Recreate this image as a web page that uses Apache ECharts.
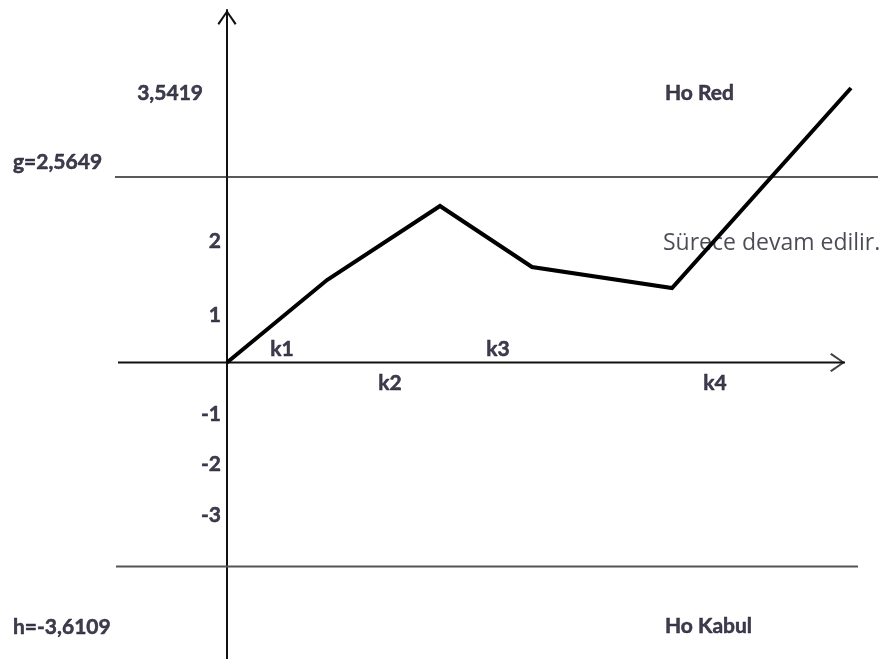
<!DOCTYPE html>
<html><head><meta charset="utf-8">
<script src="https://cdn.jsdelivr.net/npm/echarts@6/dist/echarts.min.js"></script>
<style>html,body{margin:0;padding:0;background:#fff}#c{width:881px;height:659px}</style>
</head><body><div id="c"></div>
<script>
// Schematic (not-to-scale) diagram units
const stepX = [0, 10.0, 21.3, 30.5, 44.5, 62.4];
const statY = [0, 1.65, 3.13, 1.91, 1.49, 5.49];
const tickLabels = ['2', '1', '-1', '-2', '-3'];
const tickPos = [2.42, 0.94, -1.03, -2.03, -3.05];
const gLevel = 3.71;
const hLevel = -4.08;
const gSpan = [-11.2, 65.1];
const hSpan = [-11.1, 63.1];
const xAxisSpan = [-10.9, 61.8];
const xRange = [-22.7, 65.4];
const yRange = [-5.93, 7.05];
const boldText = ['3,5419', 'g=2,5649', 'h=-3,6109', 'Ho Red', 'Ho Kabul', 'k1', 'k2', 'k3', 'k4'];
const boldX = [-2.4, -21.4, -21.4, 43.8, 43.8, 5.5, 16.3, 27.1, 48.8];
const boldY = [5.39, 4.01, -5.29, 5.39, -5.27, 0.27, -0.41, 0.27, -0.41];
const boldAlign = ['right', 'left', 'left', 'left', 'left', 'center', 'center', 'center', 'center'];
const noteText = ['Sürece devam edilir.'];
const noteX = [43.6];
const noteY = [2.39];

const chev = 'path://M9.5,0 L19,13.5 L17.4,15 L9.5,3.2 L1.6,15 L0,13.5 Z';
const ink = '#0d0d20';
const boldLabel = {fontFamily: 'Lato', fontWeight: 'bold', fontSize: 21, color: ink,
  textBorderColor: ink, textBorderWidth: 0.5};
const chart = echarts.init(document.getElementById('c'), null, {renderer: 'canvas'});
chart.setOption({
  animation: false,
  backgroundColor: '#fff',
  grid: {left: 0, right: 0, top: 10, bottom: 0, containLabel: false},
  xAxis: {type: 'value', min: xRange[0], max: xRange[1], axisLine: {show: false},
    axisTick: {show: false}, axisLabel: {show: false}, splitLine: {show: false}},
  yAxis: {type: 'value', min: yRange[0], max: yRange[1],
    axisLine: {show: true, onZero: true, symbol: ['none', chev], symbolSize: [19, 15], symbolOffset: [0, -7.5],
      lineStyle: {color: '#111', width: 2}},
    axisTick: {show: false}, splitLine: {show: false}, axisLabel: {show: false}},
  series: [
    // x axis line + arrow head
    {type: 'line', data: [[xAxisSpan[0], 0], [xAxisSpan[1], 0]], symbol: 'none', silent: true,
      lineStyle: {color: '#111', width: 2}, z: 2},
    {type: 'scatter', data: [[xAxisSpan[1] - 0.75, 0]], symbol: chev, symbolSize: [19, 15], symbolRotate: -90,
      itemStyle: {color: '#111'}, silent: true, z: 2},
    {type: 'line', data: [[gSpan[0], gLevel], [gSpan[1], gLevel]], symbol: 'none',
      lineStyle: {color: '#222', width: 1.6}, silent: true, z: 1},
    {type: 'line', data: [[hSpan[0], hLevel], [hSpan[1], hLevel]], symbol: 'none',
      lineStyle: {color: '#555', width: 2}, silent: true, z: 1},
    {type: 'line', data: stepX.map((x, i) => [x, statY[i]]), symbol: 'none',
      lineStyle: {color: '#000', width: 4, join: 'miter'}, z: 5},
    // y tick labels
    {type: 'scatter', symbolSize: 1, itemStyle: {color: 'rgba(0,0,0,0)'}, z: 6, silent: true,
      data: tickLabels.map((t, i) => ({value: [-0.6, tickPos[i]],
        label: Object.assign({show: true, position: 'inside', formatter: t, align: 'right', verticalAlign: 'middle'}, boldLabel)}))},
    {type: 'scatter', symbolSize: 1, itemStyle: {color: 'rgba(0,0,0,0)'}, z: 6, silent: true,
      data: boldText.map((t, i) => ({value: [boldX[i], boldY[i]],
        label: Object.assign({show: true, position: 'inside', formatter: t, align: boldAlign[i], verticalAlign: 'middle'}, boldLabel)}))},
    {type: 'scatter', symbolSize: 1, itemStyle: {color: 'rgba(0,0,0,0)'}, z: 4, silent: true,
      data: noteText.map((t, i) => ({value: [noteX[i], noteY[i]],
        label: {show: true, position: 'inside', formatter: t, align: 'left', verticalAlign: 'middle',
          fontFamily: 'Open Sans', fontWeight: 'normal', fontSize: 23, color: '#1e1e2c'}}))}
  ]
});
</script></body></html>
